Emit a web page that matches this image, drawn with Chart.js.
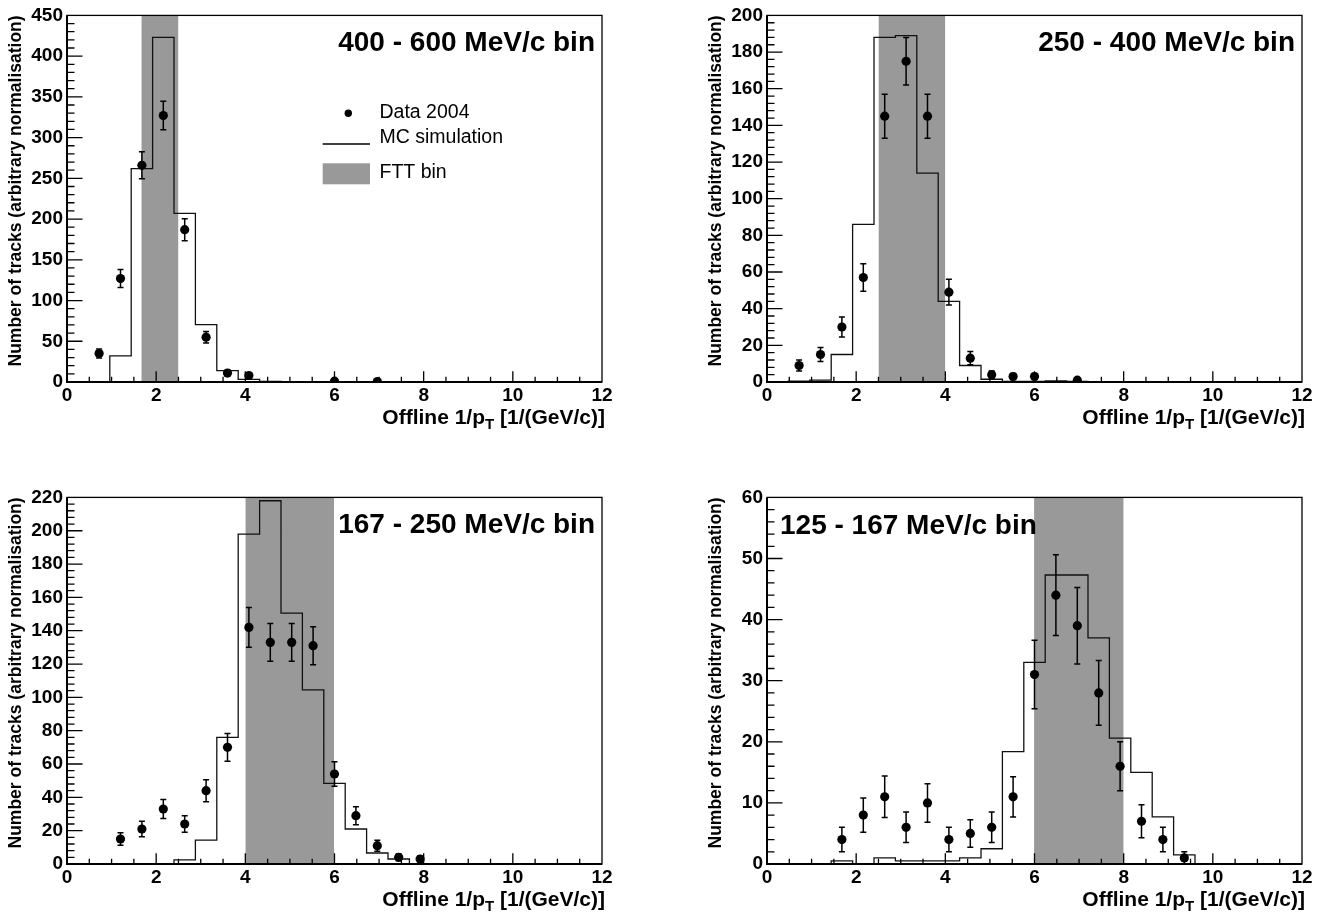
<!DOCTYPE html>
<html>
<head>
<meta charset="utf-8">
<script src="https://cdn.jsdelivr.net/npm/chart.js@4.4.0/dist/chart.umd.min.js"></script>
<style>
body { margin: 0; background: #fff; width: 1330px; height: 915px; overflow: hidden; position: relative; }
canvas { position: absolute; }
</style>
</head>
<body>
<canvas id="p1" width="665" height="433" style="left:0px;top:0px"></canvas>
<canvas id="p2" width="665" height="433" style="left:700px;top:0px"></canvas>
<canvas id="p3" width="665" height="433" style="left:0px;top:482px"></canvas>
<canvas id="p4" width="665" height="433" style="left:700px;top:482px"></canvas>
<script>
// histogram binning of offline 1/pT (25 bins from 0 to 12)
var binEdges = [0, 0.48, 0.96, 1.44, 1.92, 2.4, 2.88, 3.36, 3.84, 4.32, 4.8, 5.28, 5.76,
                6.24, 6.72, 7.2, 7.68, 8.16, 8.64, 9.12, 9.6, 10.08, 10.56, 11.04, 11.52, 12];

// 400 - 600 MeV/c
var mc400 = [0, 0.5, 32, 262, 423, 207, 70.5, 14, 3.3, 0.8, 0, 0, 0, 0, 0, 0, 0, 0, 0, 0, 0, 0, 0, 0, 0];
var data400X = [0.72, 1.2, 1.68, 2.16, 2.64, 3.12, 3.6, 4.08, 6.0, 6.96];
var data400Y = [35, 127, 266, 327, 187, 55, 11, 8, 1, 0.5];
var data400Err = [5.5, 11, 16.5, 17.5, 13.5, 7, 3.3, 2.8, 1, 0.7];
var ftt400 = [1.667, 2.5];

// 250 - 400 MeV/c
var mc250 = [0, 0.5, 1, 15, 86, 188, 189, 114, 44, 9, 1.5, 0.3, 0.3, 0.6, 0.3, 0.2, 0, 0, 0.2, 0, 0, 0, 0, 0, 0];
var data250X = [0.72, 1.2, 1.68, 2.16, 2.64, 3.12, 3.6, 4.08, 4.56, 5.04, 5.52, 6.0, 6.96];
var data250Y = [9, 15, 30, 57, 145, 175, 145, 49, 13, 4, 3, 3, 1];
var data250Err = [3, 3.8, 5.5, 7.5, 12, 13, 12, 7, 3.6, 2, 1.7, 1.7, 1];
var ftt250 = [2.5, 4];

// 167 - 250 MeV/c
var mc167 = [0, 0, 0, 0, 0, 2.5, 14.3, 76, 198, 218, 150.5, 104.5, 48.4, 21, 6.6, 3, 0, 0, 0, 0, 0, 0, 0, 0, 0];
var data167X = [1.2, 1.68, 2.16, 2.64, 3.12, 3.6, 4.08, 4.56, 5.04, 5.52, 6.0, 6.48, 6.96, 7.44, 7.92];
var data167Y = [15, 21, 33, 24, 44, 70, 142, 133, 133, 131, 54, 29, 11, 4, 3];
var data167Err = [3.8, 4.6, 5.7, 4.9, 6.6, 8.3, 12, 11.4, 11.4, 11.4, 7.3, 5.4, 3.3, 2, 1.7];
var ftt167 = [4, 5.99];

// 125 - 167 MeV/c
var mc125 = [0, 0, 0, 0.5, 0, 1, 0.5, 0.5, 0.5, 1, 2.5, 18.4, 33, 47.3, 47.3, 37, 20.6, 15, 7.7, 1.5, 0, 0, 0, 0, 0];
var data125X = [1.68, 2.16, 2.64, 3.12, 3.6, 4.08, 4.56, 5.04, 5.52, 6.0, 6.48, 6.96, 7.44, 7.92, 8.4, 8.88, 9.36];
var data125Y = [4, 8, 11, 6, 10, 4, 5, 6, 11, 31, 44, 39, 28, 16, 7, 4, 1];
var data125Err = [2, 2.8, 3.4, 2.5, 3.15, 2, 2.25, 2.5, 3.3, 5.6, 6.6, 6.25, 5.3, 4, 2.7, 2, 1];
var ftt125 = [5.99, 8];

var FONT = '"Liberation Sans", Arial, Helvetica, sans-serif';

/**
 * one ROOT-like pad
 * p: {canvas, title, titleAlign, mc, x, y, err, ftt, yMax, yStep, yMinor, legend}
 */
function makePanel(p) {
    var histPts = [];
    for(var i = 0; i < p.mc.length; i++) {
        histPts.push({x: binEdges[i], y: p.mc[i]});
    }
    histPts.push({x: binEdges[p.mc.length], y: p.mc[p.mc.length - 1]});

    var pts = [];
    for(var i = 0; i < p.x.length; i++) {
        pts.push({x: p.x[i], y: p.y[i]});
    }

    var padPlugin = {
        id: 'rootPad',
        afterDatasetsDraw: function(chart) {
            var ctx = chart.ctx;
            var xs = chart.scales.x, ys = chart.scales.y;
            var a = chart.chartArea;

            ctx.save();
            ctx.strokeStyle = '#000';

            // error bars
            ctx.lineWidth = 1.5;
            for(var i = 0; i < p.x.length; i++) {
                var px = xs.getPixelForValue(p.x[i]);
                var top = ys.getPixelForValue(p.y[i] + p.err[i]);
                var bot = ys.getPixelForValue(Math.max(p.y[i] - p.err[i], 0));
                ctx.beginPath();
                ctx.moveTo(px, top); ctx.lineTo(px, bot);
                ctx.moveTo(px - 3, top); ctx.lineTo(px + 3, top);
                ctx.moveTo(px - 3, bot); ctx.lineTo(px + 3, bot);
                ctx.stroke();
            }

            // ticks inside the frame
            ctx.lineWidth = 1.3;
            ctx.beginPath();
            for(var v = 0.5; v < 12; v += 0.5) {
                var tx = xs.getPixelForValue(v);
                var len = (v % 2 == 0) ? 10.7 : 5.3;
                ctx.moveTo(tx, a.bottom); ctx.lineTo(tx, a.bottom - len);
            }
            for(var v = p.yMinor; v < p.yMax; v += p.yMinor) {
                var ty = ys.getPixelForValue(v);
                var isMajor = Math.abs(v / p.yStep - Math.round(v / p.yStep)) < 1e-6;
                ctx.moveTo(a.left, ty); ctx.lineTo(a.left + (isMajor ? 15.5 : 7.5), ty);
            }
            ctx.stroke();

            // frame
            ctx.lineWidth = 1.3;
            ctx.strokeRect(a.left, a.top, a.right - a.left, a.bottom - a.top);
            ctx.lineWidth = 2;
            ctx.beginPath();
            ctx.moveTo(a.left, a.top); ctx.lineTo(a.left, a.bottom); ctx.lineTo(a.right, a.bottom);
            ctx.stroke();
            ctx.restore();
        },
        afterDraw: function(chart) {
            var ctx = chart.ctx;
            var a = chart.chartArea;
            ctx.save();
            ctx.fillStyle = '#000';

            // pad label
            ctx.font = 'bold 28px ' + FONT;
            ctx.textBaseline = 'alphabetic';
            if(p.titleAlign == 'left') {
                ctx.textAlign = 'left';
                ctx.fillText(p.title, a.left + 13, a.top + 37);
            }
            else {
                ctx.textAlign = 'right';
                ctx.fillText(p.title, a.right - 7, a.top + 36);
            }

            // x title with subscript T
            var base = a.bottom + 42;
            var s1 = 'Offline 1/p', s2 = 'T', s3 = ' [1/(GeV/c)]';
            ctx.font = 'bold 21px ' + FONT;
            var w1 = ctx.measureText(s1).width, w3 = ctx.measureText(s3).width;
            ctx.font = 'bold 15px ' + FONT;
            var w2 = ctx.measureText(s2).width;
            var x0 = a.right + 3 - (w1 + w2 + w3);
            ctx.textAlign = 'left';
            ctx.font = 'bold 21px ' + FONT;
            ctx.fillText(s1, x0, base);
            ctx.fillText(s3, x0 + w1 + w2, base);
            ctx.font = 'bold 15px ' + FONT;
            ctx.fillText(s2, x0 + w1, base + 5);

            // y title, rotated, aligned to top of axis
            ctx.save();
            ctx.translate(16.5, a.top);
            ctx.rotate(-Math.PI / 2);
            ctx.font = 'bold 17.5px ' + FONT;
            ctx.textAlign = 'right';
            ctx.textBaseline = 'middle';
            ctx.fillText('Number of tracks (arbitrary normalisation)', 0, 0);
            ctx.restore();

            if(p.legend) {
                ctx.font = '19.5px ' + FONT;
                ctx.textAlign = 'left';
                ctx.textBaseline = 'alphabetic';
                ctx.beginPath();
                ctx.arc(348.3, 113.3, 3.7, 0, Math.PI * 2);
                ctx.fill();
                ctx.fillText('Data 2004', 379.5, 118.3);

                ctx.strokeStyle = '#000';
                ctx.lineWidth = 1.3;
                ctx.beginPath();
                ctx.moveTo(322.7, 144); ctx.lineTo(370, 144);
                ctx.stroke();
                ctx.fillText('MC simulation', 379.5, 143.3);

                ctx.fillStyle = '#999999';
                ctx.fillRect(322.7, 163.3, 47.3, 21);
                ctx.fillStyle = '#000';
                ctx.fillText('FTT bin', 379.5, 178.3);
            }
            ctx.restore();
        }
    };

    return new Chart(document.getElementById(p.canvas), {
        type: 'scatter',
        data: {
            datasets: [
                {
                    label: 'Data 2004',
                    data: pts,
                    pointRadius: 4.6,
                    pointHoverRadius: 4.6,
                    backgroundColor: '#000',
                    borderWidth: 0,
                },
                {
                    type: 'line',
                    label: 'MC simulation',
                    data: histPts,
                    stepped: 'before',
                    borderColor: '#111',
                    borderWidth: 1.3,
                    pointRadius: 0,
                    fill: false,
                },
                {
                    type: 'line',
                    label: 'FTT bin',
                    data: [{x: p.ftt[0], y: p.yMax}, {x: p.ftt[1], y: p.yMax}],
                    borderColor: 'transparent',
                    borderWidth: 0,
                    backgroundColor: '#999999',
                    pointRadius: 0,
                    fill: 'origin',
                },
            ],
        },
        options: {
            responsive: false,
            animation: false,
            events: [],
            layout: {padding: {left: 0, top: 14, right: 63, bottom: 0}},
            plugins: {
                legend: {display: false},
                tooltip: {enabled: false},
            },
            scales: {
                x: {
                    type: 'linear',
                    min: 0,
                    max: 12,
                    grid: {display: false, drawTicks: false},
                    border: {display: false},
                    ticks: {
                        stepSize: 2,
                        autoSkip: false,
                        maxRotation: 0,
                        padding: 2,
                        color: '#000',
                        font: {family: FONT, size: 19, weight: 'bold'},
                    },
                    afterFit: function(scale) { scale.height = 51; },
                },
                y: {
                    type: 'linear',
                    min: 0,
                    max: p.yMax,
                    grid: {display: false, drawTicks: false},
                    border: {display: false},
                    ticks: {
                        stepSize: p.yStep,
                        autoSkip: false,
                        padding: 4,
                        color: '#000',
                        font: {family: FONT, size: 19, weight: 'bold'},
                    },
                    afterFit: function(scale) { scale.width = 67; },
                },
            },
        },
        plugins: [padPlugin],
    });
}

makePanel({canvas: 'p1', title: '400 - 600 MeV/c bin', titleAlign: 'right', mc: mc400,
    x: data400X, y: data400Y, err: data400Err, ftt: ftt400, yMax: 450, yStep: 50, yMinor: 10, legend: true});
makePanel({canvas: 'p2', title: '250 - 400 MeV/c bin', titleAlign: 'right', mc: mc250,
    x: data250X, y: data250Y, err: data250Err, ftt: ftt250, yMax: 200, yStep: 20, yMinor: 4});
makePanel({canvas: 'p3', title: '167 - 250 MeV/c bin', titleAlign: 'right', mc: mc167,
    x: data167X, y: data167Y, err: data167Err, ftt: ftt167, yMax: 220, yStep: 20, yMinor: 4});
makePanel({canvas: 'p4', title: '125 - 167 MeV/c bin', titleAlign: 'left', mc: mc125,
    x: data125X, y: data125Y, err: data125Err, ftt: ftt125, yMax: 60, yStep: 10, yMinor: 2});
</script>
</body>
</html>
